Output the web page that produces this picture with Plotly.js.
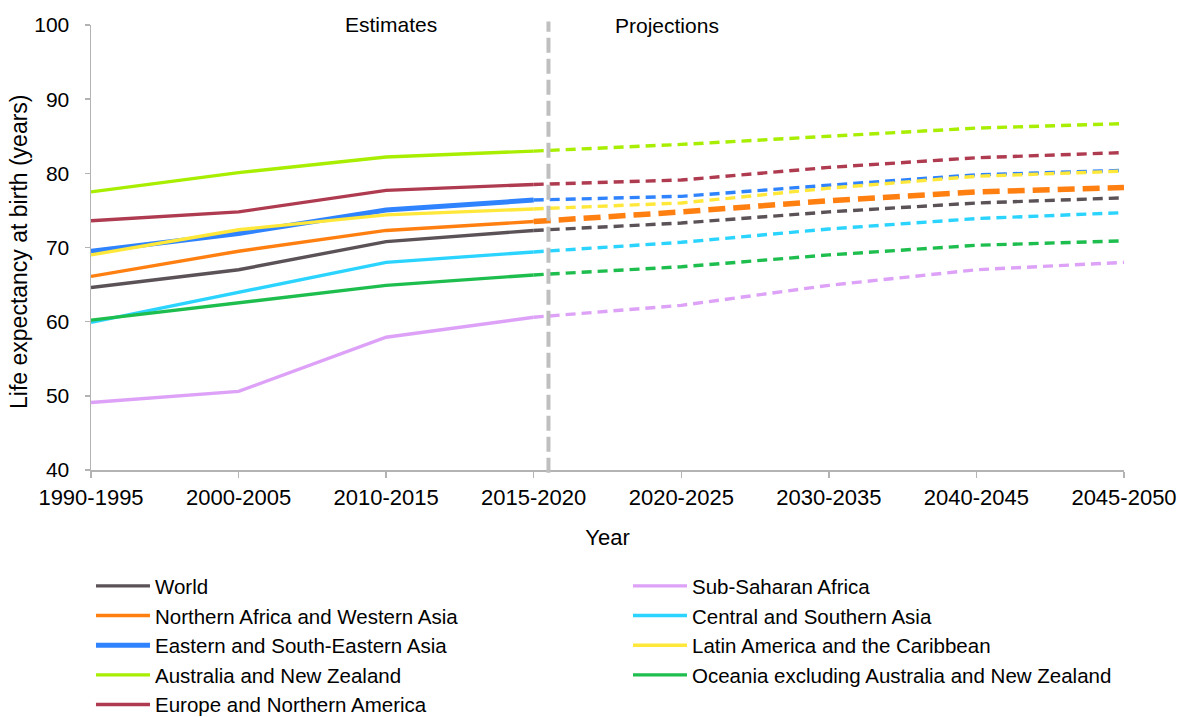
<!DOCTYPE html>
<html>
<head>
<meta charset="utf-8">
<script src="https://cdn.plot.ly/plotly-3.0.1.min.js"></script>
<style>html,body{margin:0;padding:0;background:#fff;}#chart{width:1180px;height:717px;}</style>
</head>
<body>
<div id="chart"></div>
<script>
const categories = ['1990-1995','2000-2005','2010-2015','2015-2020','2020-2025','2030-2035','2040-2045','2045-2050'];
const estCats = categories.slice(0, 4);
const projCats = categories.slice(3);

const seriesNames = [
  'World', 'Sub-Saharan Africa',
  'Northern Africa and Western Asia', 'Central and Southern Asia',
  'Eastern and South-Eastern Asia', 'Latin America and the Caribbean',
  'Australia and New Zealand', 'Oceania excluding Australia and New Zealand',
  'Europe and Northern America'
];

const worldEst = [64.6, 67.0, 70.8, 72.3];
const worldProj = [72.3, 73.3, 74.8, 76.0, 76.7];
const ssaEst = [49.1, 50.6, 57.9, 60.6];
const ssaProj = [60.6, 62.2, 64.9, 67.0, 68.0];
const nafrEst = [66.1, 69.5, 72.3, 73.5];
const nafrProj = [73.5, 74.8, 76.3, 77.5, 78.1];
const csaEst = [59.9, 64.0, 68.0, 69.4];
const csaProj = [69.4, 70.7, 72.5, 73.9, 74.7];
const eastEst = [69.5, 71.9, 75.05, 76.4];
const eastProj = [76.4, 76.9, 78.4, 79.8, 80.4];
const latamEst = [69.0, 72.4, 74.4, 75.2];
const latamProj = [75.2, 76.0, 78.0, 79.6, 80.3];
const ausEst = [77.5, 80.1, 82.2, 83.0];
const ausProj = [83.0, 83.9, 85.0, 86.1, 86.7];
const oceEst = [60.2, 62.5, 64.9, 66.3];
const oceProj = [66.3, 67.4, 69.0, 70.3, 70.9];
const eurEst = [73.6, 74.8, 77.7, 78.5];
const eurProj = [78.5, 79.1, 80.8, 82.1, 82.8];

const estValues = [worldEst, ssaEst, nafrEst, csaEst, eastEst, latamEst, ausEst, oceEst, eurEst];
const projValues = [worldProj, ssaProj, nafrProj, csaProj, eastProj, latamProj, ausProj, oceProj, eurProj];

const colors = ['#5A5257', '#DDA2F7', '#FF7F11', '#2BD4FF', '#2F83FF', '#FFE83A', '#A8EE00', '#1EBE4E', '#AF3B50'];
const estWidths = [3.4, 3.4, 3.4, 3.4, 5, 3.4, 3.4, 3.4, 3.4];
const projWidths = [3.4, 3.4, 5.5, 3.4, 3.4, 3.4, 3.4, 3.4, 3.4];
const projDash = ['10px,6px','10px,6px','17px,8px','10px,6px','10px,6px','10px,6px','10px,6px','10px,6px','10px,6px'];
const legendColumn = ['legend', 'legend2', 'legend', 'legend2', 'legend', 'legend2', 'legend', 'legend2', 'legend'];

const traces = [];
seriesNames.forEach((name, i) => {
  traces.push({
    x: estCats, y: estValues[i], type: 'scatter', mode: 'lines', name: name,
    legend: legendColumn[i], legendgroup: name,
    line: {color: colors[i], width: estWidths[i]}, hoverinfo: 'x+y+name'
  });
});
seriesNames.forEach((name, i) => {
  traces.push({
    x: projCats, y: projValues[i], type: 'scatter', mode: 'lines', name: name,
    legend: legendColumn[i], legendgroup: name, showlegend: false,
    line: {color: colors[i], width: projWidths[i], dash: projDash[i]}, hoverinfo: 'x+y+name'
  });
});

const font = 'Liberation Sans, Arial, sans-serif';
const legendFont = {family: font, size: 20.5, color: '#000'};

const layout = {
  width: 1180, height: 717,
  paper_bgcolor: '#fff', plot_bgcolor: '#fff',
  margin: {l: 91, r: 56, t: 25, b: 247, autoexpand: false},
  font: {family: font, size: 21, color: '#000'},
  showlegend: true,
  legend: {
    orientation: 'v', x: 0.0771, y: 0.2105, xref: 'container', yref: 'container',
    xanchor: 'left', yanchor: 'top', itemwidth: 54, tracegroupgap: 0,
    font: legendFont, traceorder: 'normal', bgcolor: 'rgba(0,0,0,0)'
  },
  legend2: {
    orientation: 'v', x: 0.5322, y: 0.2105, xref: 'container', yref: 'container',
    xanchor: 'left', yanchor: 'top', itemwidth: 54, tracegroupgap: 0,
    font: legendFont, traceorder: 'normal', bgcolor: 'rgba(0,0,0,0)'
  },
  xaxis: {
    type: 'category', categoryorder: 'array', categoryarray: categories,
    range: [0, 7], showgrid: false, zeroline: false, automargin: false,
    showline: true, linecolor: '#B3B3B3', linewidth: 1.5,
    ticks: 'outside', ticklen: 6, tickcolor: '#B3B3B3', tickwidth: 1.5,
    ticklabelstandoff: 1, tickangle: 0,
    tickfont: {family: font, size: 22, color: '#000'},
    title: {text: 'Year', font: {family: font, size: 22, color: '#000'}, standoff: 20},
    fixedrange: true
  },
  yaxis: {
    range: [40, 100], dtick: 10, showgrid: false, zeroline: false, automargin: false,
    showline: true, linecolor: '#B3B3B3', linewidth: 1.5,
    ticks: 'outside', ticklen: 5, tickcolor: '#B3B3B3', tickwidth: 1.5,
    ticklabelstandoff: 11,
    tickfont: {family: font, size: 21, color: '#000'},
    fixedrange: true
  },
  shapes: [{
    type: 'line', xref: 'x', yref: 'paper', x0: 3.1, x1: 3.1, y0: -0.006, y1: 1.008,
    line: {color: '#BFBFBF', width: 4, dash: '15px,6px'}
  }],
  annotations: [
    {text: 'Life expectancy at birth (years)', xref: 'paper', yref: 'paper',
     x: -0.0697, y: 0.49, textangle: -90, showarrow: false,
     font: {family: font, size: 23, color: '#000'}, xanchor: 'center', yanchor: 'middle'},
    {text: 'Estimates', xref: 'x', yref: 'paper', x: 2.03, y: 1.002, showarrow: false,
     font: {family: font, size: 21, color: '#000'}, xanchor: 'center', yanchor: 'middle'},
    {text: 'Projections', xref: 'x', yref: 'paper', x: 3.9, y: 0.998, showarrow: false,
     font: {family: font, size: 21, color: '#000'}, xanchor: 'center', yanchor: 'middle'}
  ]
};

Plotly.newPlot('chart', traces, layout, {displayModeBar: false, staticPlot: true});
</script>
</body>
</html>
